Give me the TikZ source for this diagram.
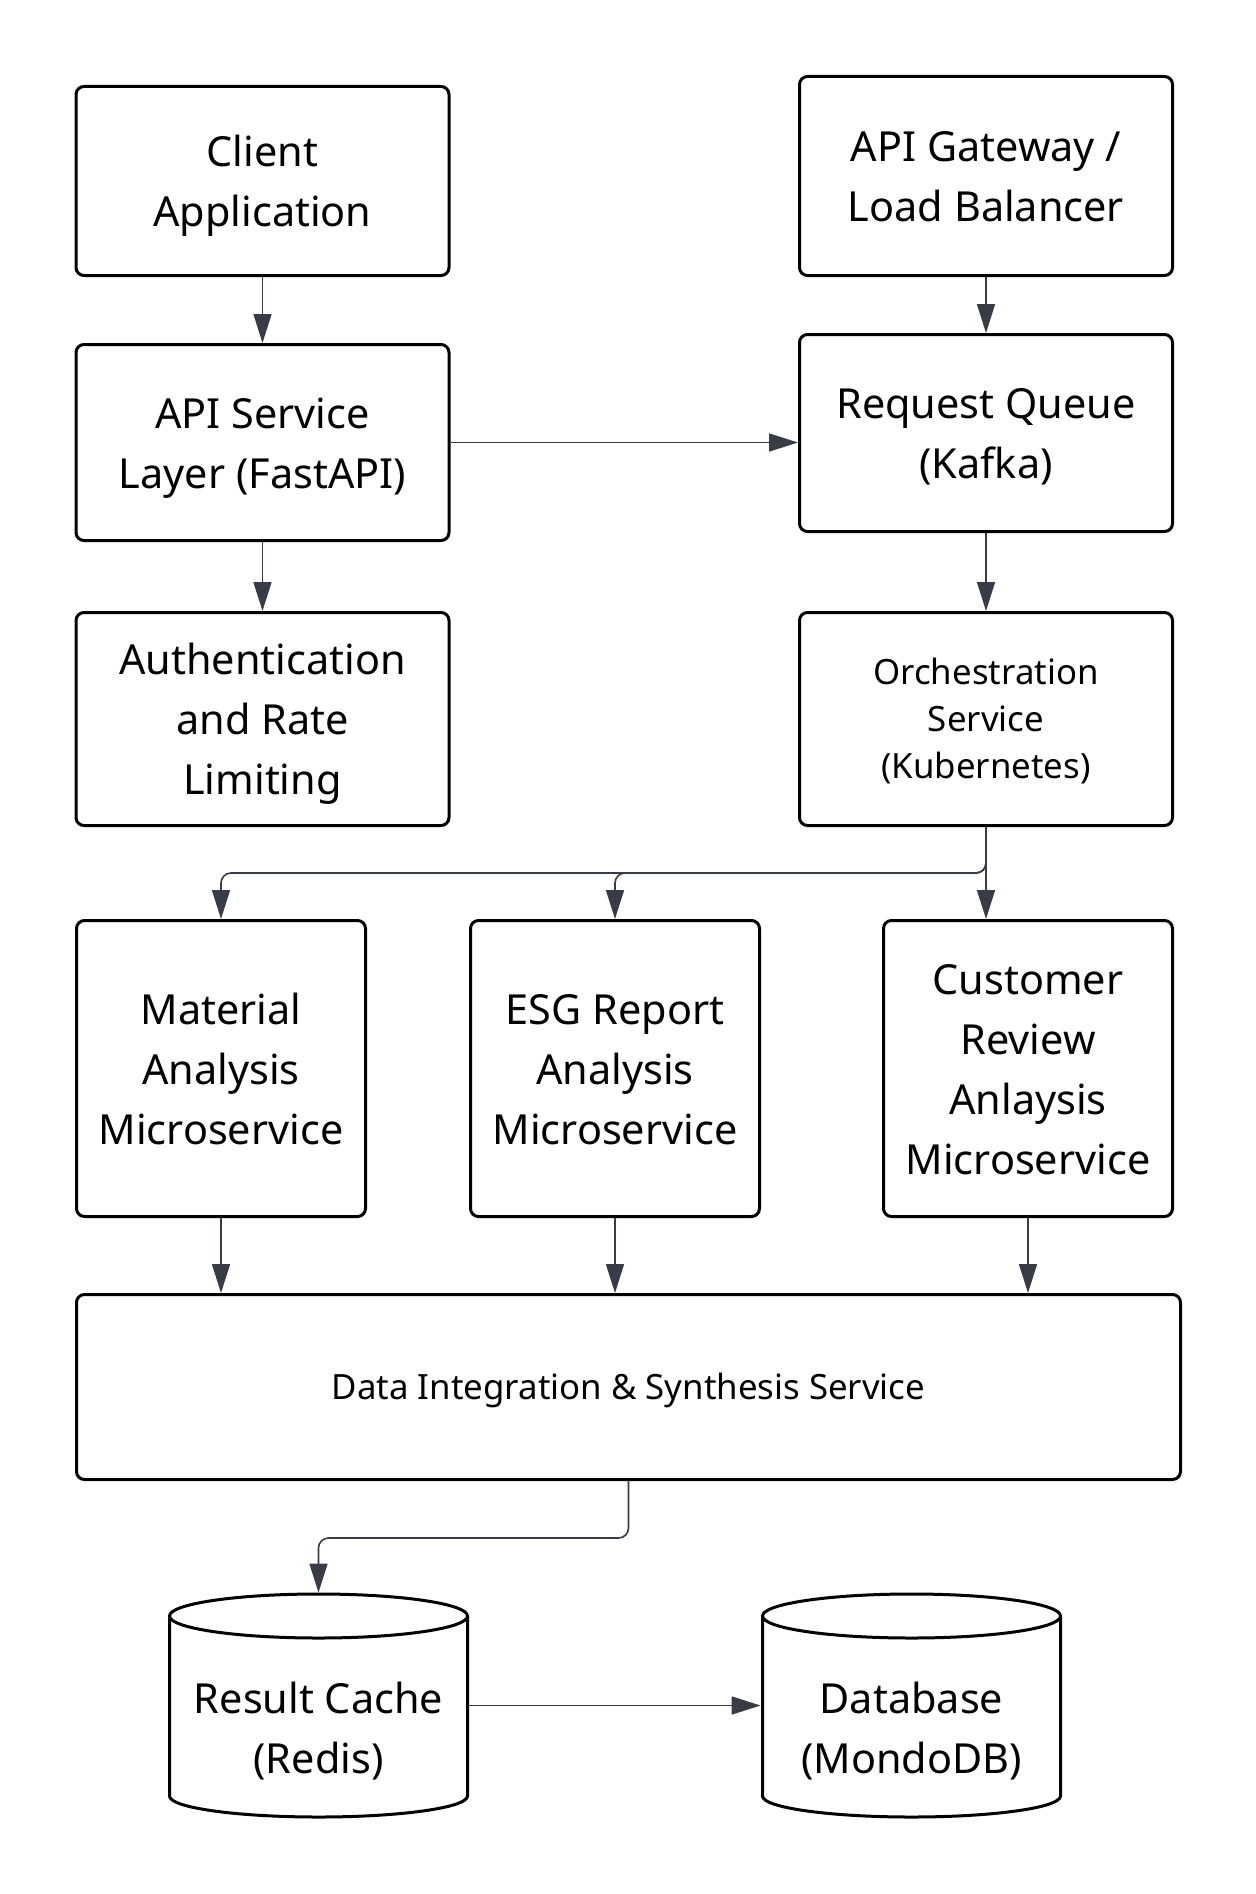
\documentclass[tikz,border=0pt]{standalone}
\usepackage{fontspec}
\setmainfont{Noto Sans}
\usetikzlibrary{arrows.meta}
\definecolor{edgecol}{RGB}{55,60,70}
\newcommand{\diagbig}{\fontsize{20.7pt}{30pt}\selectfont}
\newcommand{\diagsmall}{\fontsize{17.4pt}{23.5pt}\selectfont}
\newcommand{\lnstrut}{\rule[-0.24\baselineskip]{0pt}{\baselineskip}}
\tikzset{
  box/.style={draw=black, line width=1.5pt, rounded corners=4pt, align=center, inner sep=0pt, font=\diagbig, fill=white},
  sz/.style 2 args={minimum width=#1*0.5pt, minimum height=#2*0.5pt},
  cyl/.style={draw=black, line width=1.5pt},
  conn/.style={draw=edgecol, line width=0.8pt, rounded corners=5pt, -{Triangle[length=14.5pt,width=9pt]}},
  lbl/.style={align=center, inner sep=0pt, font=\diagbig}
}
\begin{document}
\begin{tikzpicture}[x=0.5pt,y=-0.5pt]
\fill[white] (0,0) rectangle (1256,1894);
\useasboundingbox (0,0) rectangle (1256,1894);

\node[box, sz={373}{189}] (client) at (262.5,181) {\lnstrut Client\\Application\lnstrut};
\node[box, sz={373}{199}] (gw) at (986,176) {\lnstrut API Gateway /\\Load Balancer\lnstrut};
\node[box, sz={373}{196}] (api) at (262.5,442.5) {\lnstrut API Service\\Layer (FastAPI)\lnstrut};
\node[box, sz={373}{197}] (rq) at (986,433) {\lnstrut Request Queue\\(Kafka)\lnstrut};
\node[box, sz={373}{213}] (auth) at (262.5,719) {\lnstrut Authentication\\and Rate\\Limiting\lnstrut};
\node[box, sz={373}{213}, font=\diagsmall] (orch) at (986,719) {\lnstrut Orchestration\\Service\\(Kubernetes)\lnstrut};
\node[box, sz={289}{296}] (mat) at (221,1068.5) {\lnstrut Material\\Analysis\\Microservice\lnstrut};
\node[box, sz={289}{296}] (esg) at (615,1068.5) {\lnstrut ESG Report\\Analysis\\Microservice\lnstrut};
\node[box, sz={289}{296}] (cust) at (1028,1068.5) {\lnstrut Customer\\Review\\Anlaysis\\Microservice\lnstrut};
\node[box, sz={1104}{185}, font=\diagsmall] (data) at (628.5,1387) {\lnstrut Data Integration \& Synthesis Service\lnstrut};

% cylinders
\node[sz={301}{225}, inner sep=0pt] (rc) at (318.5,1705.5) {};
\node[sz={301}{225}, inner sep=0pt] (db) at (911.5,1705.5) {};
\draw[cyl] (318.5,1616) ellipse [x radius=74.5pt, y radius=11pt];
\draw[cyl] (169.5,1616) -- (169.5,1796) arc[start angle=180, end angle=360, x radius=74.5pt, y radius=10.5pt] -- (467.5,1616);
\draw[cyl] (911.5,1616) ellipse [x radius=74.5pt, y radius=11pt];
\draw[cyl] (762.5,1616) -- (762.5,1796) arc[start angle=180, end angle=360, x radius=74.5pt, y radius=10.5pt] -- (1060.5,1616);
\node[lbl] (rctext) at (318.5,1728) {\lnstrut Result Cache\\(Redis)\lnstrut};
\node[lbl] (dbtext) at (911.5,1728) {\lnstrut Database\\(MondoDB)\lnstrut};

% connectors
\draw[conn] (client) -- (api);
\draw[conn] (gw) -- (rq);
\draw[conn] (api.east) -- (api.east -| rq.west);
\draw[conn] (rq) -- (orch);
\draw[conn] (api) -- (auth);
\draw[conn] (orch.south) -- ++(0,46) -| (mat.north);
\draw[conn] (orch.south) -- ++(0,46) -| (esg.north);
\draw[conn] (orch.south) -- (orch.south |- cust.north);
\draw[conn] (mat.south) -- (mat.south |- data.north);
\draw[conn] (esg.south) -- (esg.south |- data.north);
\draw[conn] (cust.south) -- (cust.south |- data.north);
\draw[conn] (data.south) -- ++(0,57) -| (rc.north);
\draw[conn] (rc.east) -- (db.west);
\end{tikzpicture}
\end{document}
